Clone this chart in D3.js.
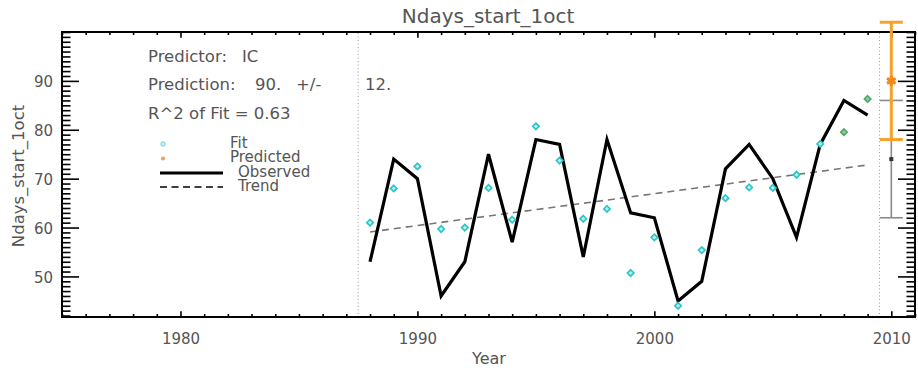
<!DOCTYPE html>
<html>
<head>
<meta charset="utf-8">
<script src="https://cdn.jsdelivr.net/npm/d3@7"></script>
<style>
  html, body { margin: 0; padding: 0; background: #fff; }
  svg { display: block; }
  text { font-family: "DejaVu Sans", sans-serif; fill: #555; }
</style>
</head>
<body>
<svg id="chart" width="918" height="374"></svg>
<script>
// Season length series, 1988-2009
const years    = [1988,1989,1990,1991,1992,1993,1994,1995,1996,1997,1998,1999,2000,2001,2002,2003,2004,2005,2006,2007,2008,2009];
const observed = [53,74,70,46,53,75,57,78,77,54,78,63,62,45,49,72,77,70,58,77,86,83];
const fitted   = [61,68,72.5,59.7,60,68.1,61.6,80.7,73.7,61.8,63.8,50.7,58,44,55.4,66,68.2,68.1,70.8,77.1,79.5,86.3];
// last two fitted years are out-of-sample
const fittedOutOfSample = [2008, 2009];
const trendYears  = [1988, 2009];
const trendValues = [59.1, 72.8];

// Forecast for the coming season
const forecastYear  = 2010;
const prediction    = 90;
const predictionErr = 12;
const trendForecast = 74;
const trendErr      = 12;
const rSquared      = "0.63";
const predictor     = "IC";

const xMajorTicks = [1980, 1990, 2000, 2010];
const yMajorTicks = [50, 60, 70, 80, 90];
const periodBounds = [1987.5, 2009.5];

const svg = d3.select("#chart");
const L = 62, R = 915, T = 32, B = 317;

const x = d3.scaleLinear().domain([1975, 2011]).range([L, R]);
const y = d3.scaleLinear().domain([41.7, 100]).range([B, T]);

const xMinor = d3.range(1975, 2012).filter(v => !xMajorTicks.includes(v));
const yMinor = d3.range(42, 101).filter(v => !yMajorTicks.includes(v));

const LONG_Y = 17, SHORT_Y = 8.5, LONG_X = 5.7, SHORT_X = 3;

function styleAxis(g) {
  g.select(".domain").remove();
  g.selectAll(".tick line").attr("stroke", "#000").attr("stroke-width", 1.6);
  g.selectAll(".tick text")
    .attr("font-family", "DejaVu Sans, sans-serif")
    .attr("font-size", 15)
    .attr("fill", "#555");
}

// left axis
svg.append("g").attr("transform", `translate(${L},0)`)
  .call(d3.axisLeft(y).tickValues(yMajorTicks).tickSize(-LONG_Y).tickPadding(9).tickFormat(d3.format("d")))
  .call(styleAxis)
  .selectAll(".tick text").attr("dy", "0.4em");
svg.append("g").attr("transform", `translate(${L},0)`)
  .call(d3.axisLeft(y).tickValues(yMinor).tickSize(-SHORT_Y).tickFormat(""))
  .call(styleAxis);
// right axis (mirrored)
svg.append("g").attr("transform", `translate(${R},0)`)
  .call(d3.axisRight(y).tickValues(yMajorTicks).tickSize(-LONG_Y).tickFormat(""))
  .call(styleAxis);
svg.append("g").attr("transform", `translate(${R},0)`)
  .call(d3.axisRight(y).tickValues(yMinor).tickSize(-SHORT_Y).tickFormat(""))
  .call(styleAxis);
// bottom axis
svg.append("g").attr("transform", `translate(0,${B})`)
  .call(d3.axisBottom(x).tickValues(xMajorTicks).tickSize(-LONG_X).tickPadding(16).tickFormat(d3.format("d")))
  .call(styleAxis);
svg.append("g").attr("transform", `translate(0,${B})`)
  .call(d3.axisBottom(x).tickValues(xMinor).tickSize(-SHORT_X).tickFormat(""))
  .call(styleAxis);
// top axis (mirrored)
svg.append("g").attr("transform", `translate(0,${T})`)
  .call(d3.axisTop(x).tickValues(xMajorTicks).tickSize(-LONG_X).tickFormat(""))
  .call(styleAxis);
svg.append("g").attr("transform", `translate(0,${T})`)
  .call(d3.axisTop(x).tickValues(xMinor).tickSize(-SHORT_X).tickFormat(""))
  .call(styleAxis);

// frame
svg.append("rect")
  .attr("x", L).attr("y", T).attr("width", R - L).attr("height", B - T)
  .attr("fill", "none").attr("stroke", "#000").attr("stroke-width", 2);

// period boundaries
svg.selectAll("line.bound").data(periodBounds).enter().append("line")
  .attr("class", "bound")
  .attr("x1", d => x(d)).attr("x2", d => x(d))
  .attr("y1", T + 1).attr("y2", B - 1)
  .attr("stroke", "#9a9a9a").attr("stroke-width", 1)
  .attr("stroke-dasharray", "1,2.5");

// trend line
const trendData = trendYears.map((yr, i) => ({ yr, v: trendValues[i] }));
svg.append("path").datum(trendData)
  .attr("d", d3.line().x(d => x(d.yr)).y(d => y(d.v)))
  .attr("fill", "none").attr("stroke", "#777").attr("stroke-width", 1.6)
  .attr("stroke-dasharray", "7,5");

// observed line
const obsData = years.map((yr, i) => ({ yr, v: observed[i] }));
svg.append("path").datum(obsData)
  .attr("d", d3.line().x(d => x(d.yr)).y(d => y(d.v)))
  .attr("fill", "none").attr("stroke", "#000").attr("stroke-width", 3.2)
  .attr("stroke-linejoin", "miter");

// fitted values (diamonds)
const diamond = s => `M0,${-s}L${s},0L0,${s}L${-s},0Z`;
const fitData = years.map((yr, i) => ({ yr, v: fitted[i], oos: fittedOutOfSample.includes(yr) }));
svg.selectAll("path.fit").data(fitData).enter().append("path")
  .attr("class", "fit")
  .attr("transform", d => `translate(${x(d.yr)},${y(d.v)})`)
  .attr("d", diamond(3.2))
  .attr("fill", d => d.oos ? "#8fd0a0" : "#b8f2f2")
  .attr("stroke", d => d.oos ? "#4fa868" : "#2cc6c8")
  .attr("stroke-width", 1.7);

// error bars at forecast year
const xf = x(forecastYear), capW = 11.5;
function errorBar(center, err, color, width) {
  const g = svg.append("g");
  g.append("line").attr("x1", xf).attr("x2", xf)
    .attr("y1", y(center + err)).attr("y2", y(center - err))
    .attr("stroke", color).attr("stroke-width", width);
  [center + err, center - err].forEach(v => {
    g.append("line").attr("x1", xf - capW).attr("x2", xf + capW)
      .attr("y1", y(v)).attr("y2", y(v))
      .attr("stroke", color).attr("stroke-width", width);
  });
  return g;
}
errorBar(trendForecast, trendErr, "#8a8a8a", 1.6);
svg.append("rect")
  .attr("x", xf - 2).attr("y", y(trendForecast) - 2).attr("width", 4).attr("height", 4)
  .attr("fill", "#333");
errorBar(prediction, predictionErr, "#f6a12c", 3);
svg.append("path")
  .attr("transform", `translate(${xf},${y(prediction)})`)
  .attr("d", d3.symbol(d3.symbolAsterisk, 70)())
  .attr("fill", "none").attr("stroke", "#f08a18").attr("stroke-width", 3);

// title and axis titles
svg.append("text").attr("x", 488).attr("y", 23).attr("text-anchor", "middle")
  .attr("font-size", 20).text("Ndays_start_1oct");
svg.append("text").attr("x", 489).attr("y", 364).attr("text-anchor", "middle")
  .attr("font-size", 16).text("Year");
svg.append("text").attr("transform", "translate(24,176) rotate(-90)")
  .attr("text-anchor", "middle").attr("font-size", 16.5).text("Ndays_start_1oct");

// annotations
const ann = svg.append("g").attr("font-size", 16.5);
ann.append("text").attr("x", 148).attr("y", 62).text("Predictor:");
ann.append("text").attr("x", 242).attr("y", 62).text(predictor);
ann.append("text").attr("x", 148).attr("y", 90).text("Prediction:");
ann.append("text").attr("x", 255).attr("y", 90).text(prediction + ".");
ann.append("text").attr("x", 296).attr("y", 90).text("+/-");
ann.append("text").attr("x", 365).attr("y", 90).text(predictionErr + ".");
ann.append("text").attr("x", 148).attr("y", 119).text("R^2 of Fit = " + rSquared);

// legend
const lg = svg.append("g");
lg.append("circle").attr("cx", 163).attr("cy", 144).attr("r", 2.2)
  .attr("fill", "#c8f2f2").attr("stroke", "#6fd4d6").attr("stroke-width", 1);
lg.append("circle").attr("cx", 163).attr("cy", 158.5).attr("r", 2)
  .attr("fill", "#f2a050");
lg.append("line").attr("x1", 160).attr("x2", 223).attr("y1", 173).attr("y2", 173)
  .attr("stroke", "#000").attr("stroke-width", 3);
lg.append("line").attr("x1", 160).attr("x2", 223).attr("y1", 187).attr("y2", 187)
  .attr("stroke", "#000").attr("stroke-width", 1.6).attr("stroke-dasharray", "7,4.5");
const lgText = [["Fit", 230, 148], ["Predicted", 230, 162], ["Observed", 238, 177], ["Trend", 238, 191]];
lg.selectAll("text").data(lgText).enter().append("text")
  .attr("x", d => d[1]).attr("y", d => d[2]).attr("font-size", 15).text(d => d[0]);
</script>
</body>
</html>
